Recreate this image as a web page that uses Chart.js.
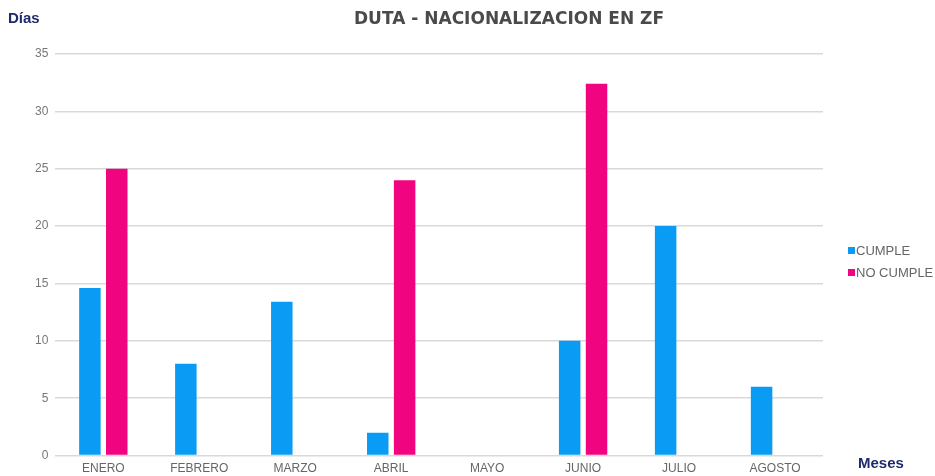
<!DOCTYPE html>
<html>
<head>
<meta charset="utf-8">
<script src="https://cdn.jsdelivr.net/npm/chart.js@4.4.0/dist/chart.umd.min.js"></script>
<style>
  html, body { margin: 0; padding: 0; background: #fff; }
  #wrap { width: 935px; height: 476px; }
</style>
</head>
<body>
<div id="wrap"><canvas id="chart"></canvas></div>
<script>
const meses = ['ENERO', 'FEBRERO', 'MARZO', 'ABRIL', 'MAYO', 'JUNIO', 'JULIO', 'AGOSTO'];
const cumple = [14.6, 8, 13.4, 2, 0, 10, 20, 6];
const noCumple = [25, 0, 0, 24, 0, 32.4, 0, 0];
const yTicks = [0, 5, 10, 15, 20, 25, 30, 35];
const titulo = 'DUTA - NACIONALIZACION EN ZF';

// title, legend at the right and the axis captions "Días" / "Meses"
const extras = {
    id: 'extras',
    afterDraw(chart) {
        const c = chart.ctx;
        c.save();
        c.textBaseline = 'middle';
        c.textAlign = 'center';
        c.fillStyle = '#4a4a4a';
        c.font = 'bold 17px "DejaVu Sans", sans-serif';
        c.fillText(titulo, 509, 20);

        c.fillStyle = '#1f2a6b';
        c.font = 'bold 15px "Liberation Sans", Arial, sans-serif';
        c.textAlign = 'left';
        c.fillText('Días', 8, 19);
        c.fillText('Meses', 858, 464);

        // legend
        c.font = '13px "Liberation Sans", Arial, sans-serif';
        chart.data.datasets.forEach((ds, i) => {
            const y = 251 + i * 22;
            c.fillStyle = ds.backgroundColor;
            c.fillRect(848, y - 4, 7, 7);
            c.fillStyle = '#666';
            c.fillText(ds.label, 856, y);
        });
        c.restore();
    }
};

const ctx = document.getElementById('chart');

new Chart(ctx, {
    type: 'bar',
    data: {
        labels: meses,
        datasets: [{
            label: 'CUMPLE',
            data: cumple,
            backgroundColor: '#0a9cf5',
            barPercentage: 0.8,
            categoryPercentage: 0.56
        }, {
            label: 'NO CUMPLE',
            data: noCumple,
            backgroundColor: '#f0047f',
            barPercentage: 0.8,
            categoryPercentage: 0.56
        }]
    },
    options: {
        responsive: true,
        maintainAspectRatio: false,
        animation: false,
        layout: {
            padding: { left: 28, right: 112, top: 54, bottom: -6 }
        },
        plugins: {
            title: { display: false },
            legend: { display: false },
            tooltip: { enabled: false }
        },
        scales: {
            x: {
                grid: { display: false, drawTicks: false },
                border: { display: false },
                ticks: {
                    color: '#666',
                    font: { size: 12, family: '"Liberation Sans", Arial, sans-serif' },
                    padding: 6
                }
            },
            y: {
                min: 0,
                max: 35,
                afterBuildTicks(axis) {
                    axis.ticks = yTicks.map(v => ({ value: v }));
                },
                grid: { color: '#d9d9d9', drawTicks: false, lineWidth: 1.5 },
                border: { display: false },
                ticks: {
                    color: '#777',
                    padding: 7,
                    font: { size: 12, family: '"Liberation Sans", Arial, sans-serif' }
                }
            }
        }
    },
    plugins: [extras]
});
</script>
</body>
</html>
